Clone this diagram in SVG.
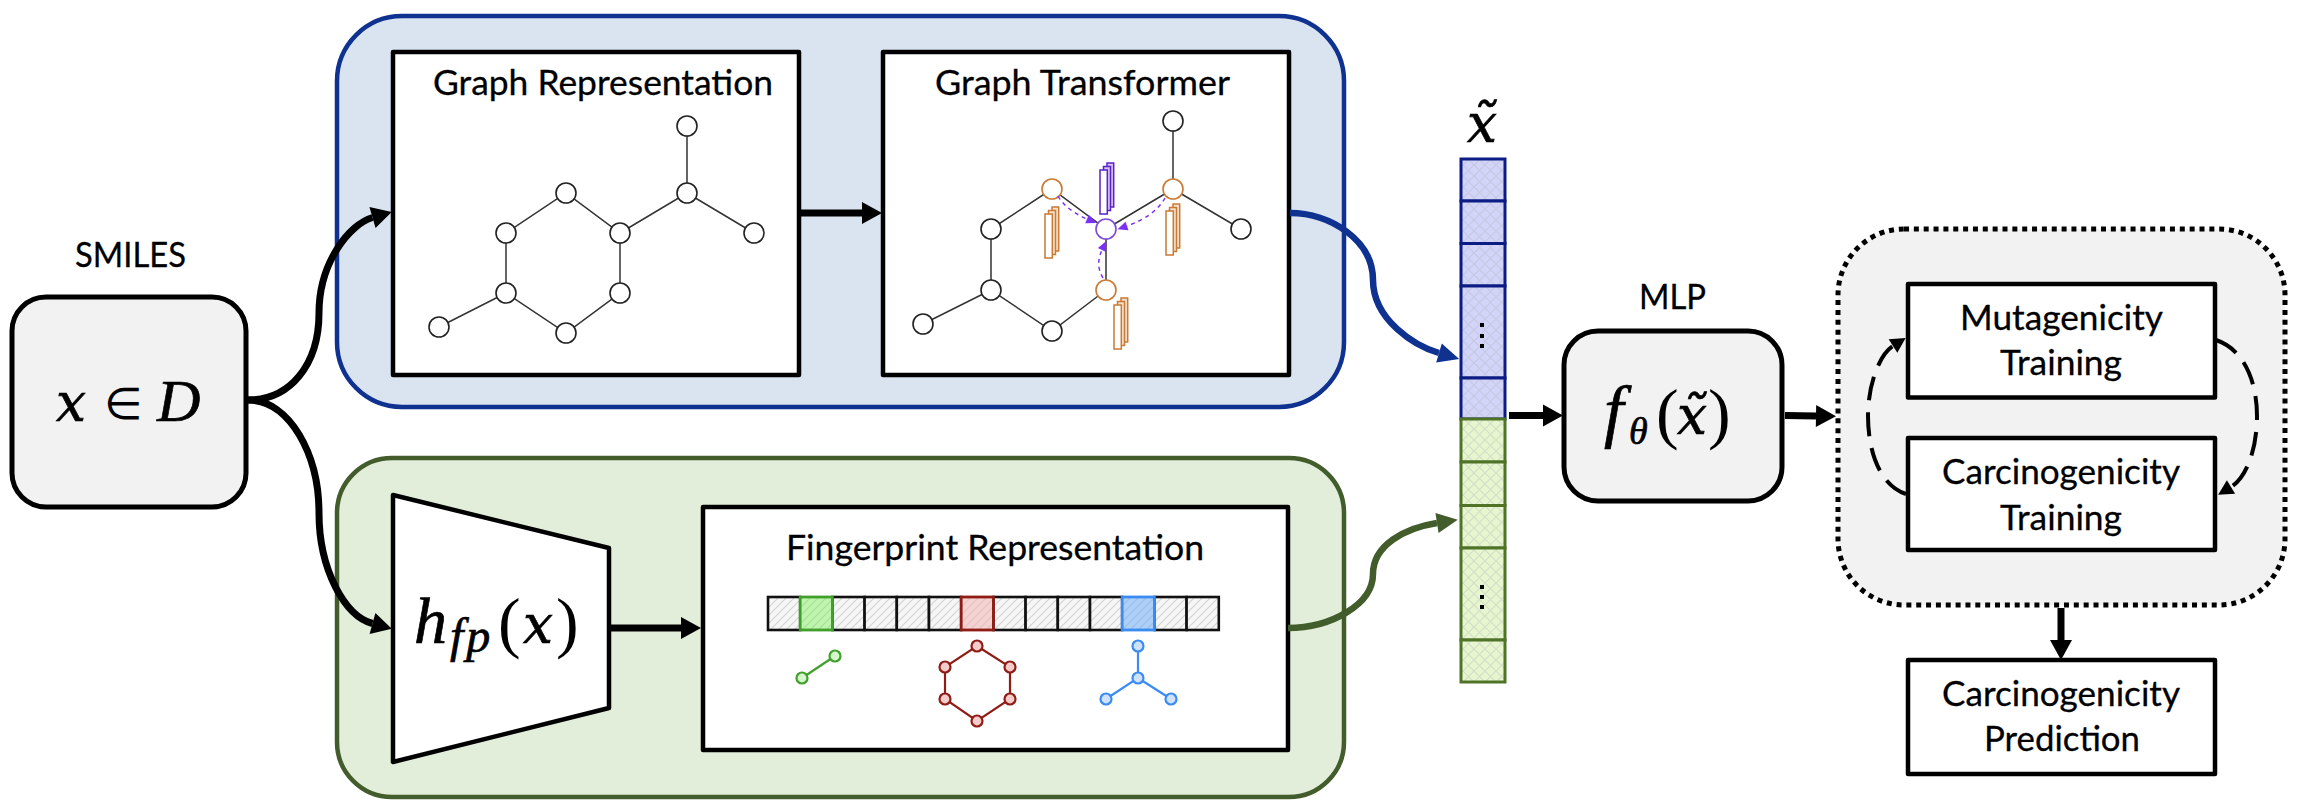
<svg xmlns="http://www.w3.org/2000/svg" width="2300" height="808" viewBox="0 0 2300 808">
<style>
.t{font-family:"Lato","Noto Sans",sans-serif;font-size:35px;fill:#000;stroke:#000;stroke-width:.3}
.m{font-family:"DejaVu Serif","Liberation Serif",serif;font-style:italic;fill:#000;stroke:#000;stroke-width:.7}
.l{font-family:"Liberation Serif","DejaVu Serif",serif;font-style:italic;fill:#000;stroke:#000;stroke-width:.7}
.u{font-family:"Liberation Serif",serif;fill:#000}
.box{fill:#fff;stroke:#000;stroke-width:4.5;stroke-linejoin:round}
.rr{fill:#f2f2f2;stroke:#000;stroke-width:5}
.e{stroke:#333;stroke-width:1.5;fill:none}
.n{fill:#fff;stroke:#222;stroke-width:1.6}
.no{fill:#fff;stroke:#c97a35;stroke-width:1.6}
.conn{fill:none;stroke:#000;stroke-width:7}
.pd{fill:none;stroke:#7b2ff7;stroke-width:1.5;stroke-dasharray:4 4}
</style>
<defs>
<marker id="hb" markerUnits="userSpaceOnUse" markerWidth="24" markerHeight="24" refX="0" refY="11" orient="auto" overflow="visible"><path d="M0 0L20 11L0 22Z" fill="#000"/></marker>
<marker id="hblue" markerUnits="userSpaceOnUse" markerWidth="24" markerHeight="24" refX="0" refY="10" orient="auto" overflow="visible"><path d="M0 0L21 10L0 20Z" fill="#0f3291"/></marker>
<marker id="hgreen" markerUnits="userSpaceOnUse" markerWidth="24" markerHeight="24" refX="0" refY="10" orient="auto" overflow="visible"><path d="M0 0L21 10L0 20Z" fill="#435c2b"/></marker>
<marker id="hd" markerUnits="userSpaceOnUse" markerWidth="18" markerHeight="18" refX="0" refY="8" orient="auto" overflow="visible"><path d="M0 0L15 8L0 16Z" fill="#000"/></marker>
<marker id="hp" markerUnits="userSpaceOnUse" markerWidth="12" markerHeight="12" refX="0" refY="4.5" orient="auto" overflow="visible"><path d="M0 0L10 4.5L0 9Z" fill="#7b2ff7"/></marker>
<pattern id="hatch" patternUnits="userSpaceOnUse" width="8" height="8"><rect width="8" height="8" fill="#f6f6f6"/><path d="M-2 10L10 -2M-6 6L6 -6M2 14L14 2" stroke="#d4d4d4" stroke-width="1.2"/></pattern>
<pattern id="hatchG" patternUnits="userSpaceOnUse" width="8" height="8"><rect width="8" height="8" fill="#bdf5ad"/><path d="M-2 10L10 -2M-6 6L6 -6M2 14L14 2" stroke="#a9dd9b" stroke-width="1.2"/></pattern>
<pattern id="hatchR" patternUnits="userSpaceOnUse" width="8" height="8"><rect width="8" height="8" fill="#f5d2d2"/><path d="M-2 10L10 -2M-6 6L6 -6M2 14L14 2" stroke="#e6c2c2" stroke-width="1.2"/></pattern>
<pattern id="hatchB" patternUnits="userSpaceOnUse" width="8" height="8"><rect width="8" height="8" fill="#aed0f8"/><path d="M-2 10L10 -2M-6 6L6 -6M2 14L14 2" stroke="#9cbee6" stroke-width="1.2"/></pattern>
<pattern id="xB" patternUnits="userSpaceOnUse" width="11" height="11"><rect width="11" height="11" fill="#d2d5f8"/><path d="M0 0L11 11M11 0L0 11" stroke="#c6c8e4" stroke-width="1.2"/></pattern>
<pattern id="xG" patternUnits="userSpaceOnUse" width="11" height="11"><rect width="11" height="11" fill="#e8f6cf"/><path d="M0 0L11 11M11 0L0 11" stroke="#d4dfc8" stroke-width="1.2"/></pattern>
<g id="so"><rect x="7" y="-7" width="6.7" height="44" fill="#f3dfca" stroke="#c97a35" stroke-width="1.5"/><rect x="3.5" y="-3.5" width="7" height="44" fill="#f3dfca" stroke="#c97a35" stroke-width="1.5"/><rect x="0" y="0" width="7.3" height="44" fill="#fff" stroke="#c97a35" stroke-width="1.5"/></g>
<g id="sp"><rect x="7" y="-7" width="6.7" height="44" fill="#d5c2f0" stroke="#5a22c8" stroke-width="1.5"/><rect x="3.5" y="-3.5" width="7" height="44" fill="#d5c2f0" stroke="#5a22c8" stroke-width="1.5"/><rect x="0" y="0" width="7.3" height="44" fill="#fff" stroke="#5a22c8" stroke-width="1.5"/></g>
</defs>

<g id="graph-panel"><rect x="337" y="16" width="1007" height="391" rx="65" fill="#dae3f0" stroke="#0f3291" stroke-width="4.5"/></g>
<g id="fp-panel"><rect x="337" y="458" width="1007" height="339" rx="55" fill="#e2eeda" stroke="#435c2b" stroke-width="4.5"/></g>

<g id="smiles-node">
<text class="t" x="75" y="267" textLength="111" lengthAdjust="spacingAndGlyphs">SMILES</text>
<rect class="rr" x="12" y="297" width="234" height="210" rx="34"/>
<text class="m" font-size="54" x="56" y="421" textLength="30" lengthAdjust="spacingAndGlyphs">x</text>
<text font-family="DejaVu Sans" font-size="44" x="104" y="419">∈</text>
<text class="l" font-size="60" x="157" y="421">D</text>
</g>

<g id="graph-representation">
<rect class="box" x="393" y="52" width="406" height="323"/>
<text class="t" x="433" y="95" textLength="340" lengthAdjust="spacingAndGlyphs">Graph Representation</text>
<path class="e" d="M687 126V193L620 233L566 193L506 233V293L566 333L620 293V233M687 193L754 233M506 293L439 327"/>
<g><circle class="n" cx="687" cy="126" r="10"/><circle class="n" cx="687" cy="193" r="10"/><circle class="n" cx="754" cy="233" r="10"/><circle class="n" cx="620" cy="233" r="10"/><circle class="n" cx="566" cy="193" r="10"/><circle class="n" cx="506" cy="233" r="10"/><circle class="n" cx="506" cy="293" r="10"/><circle class="n" cx="620" cy="293" r="10"/><circle class="n" cx="566" cy="333" r="10"/><circle class="n" cx="439" cy="327" r="10"/></g>
</g>

<g id="graph-transformer">
<rect class="box" x="883" y="52" width="406" height="323"/>
<text class="t" x="935" y="95" textLength="295" lengthAdjust="spacingAndGlyphs">Graph Transformer</text>
<path class="e" d="M1173 121V189L1106 229L1052 189L991 229V290L1052 331L1106 290V229M1173 189L1241 229M991 290L923 324"/>
<circle class="n" cx="1173" cy="121" r="10"/><circle class="no" cx="1173" cy="189" r="10"/><circle class="n" cx="1241" cy="229" r="10"/><circle cx="1106" cy="229" r="10" fill="#fff" stroke="#7d4bd8" stroke-width="1.6"/><circle class="no" cx="1052" cy="189" r="10"/><circle class="n" cx="991" cy="229" r="10"/><circle class="n" cx="991" cy="290" r="10"/><circle class="no" cx="1106" cy="290" r="10"/><circle class="n" cx="1052" cy="331" r="10"/><circle class="n" cx="923" cy="324" r="10"/>
<use href="#so" x="1045" y="214"/><use href="#so" x="1166" y="211"/><use href="#so" x="1114" y="305"/><use href="#sp" x="1100" y="170"/>
<path class="pd" d="M1058 196Q1066 210 1087 219" marker-end="url(#hp)"/>
<path class="pd" d="M1165 198Q1155 216 1127 226" marker-end="url(#hp)"/>
<path class="pd" d="M1103 278Q1095 265 1102 250" marker-end="url(#hp)"/>
</g>

<g id="fingerprint-encoder">
<path d="M393 495L609 548V708L393 762Z" fill="#fff" stroke="#000" stroke-width="4.5" stroke-linejoin="round"/>
<text class="l" font-size="66" x="414" y="643">h</text>
<text class="l" font-size="48" x="450" y="652" letter-spacing="3">fp</text>
<text class="u" font-size="68" x="498" y="645">(</text>
<text class="m" font-size="54" x="523" y="643" textLength="30" lengthAdjust="spacingAndGlyphs">x</text>
<text class="u" font-size="68" x="556" y="645">)</text>
</g>

<g id="fingerprint-representation">
<rect class="box" x="703" y="507" width="585" height="243"/>
<text class="t" x="786" y="560" textLength="418" lengthAdjust="spacingAndGlyphs">Fingerprint Representation</text>
<g stroke="#111" stroke-width="2.6" fill="url(#hatch)">
<rect x="768" y="597" width="32.2" height="33"/><rect x="832.4" y="597" width="32.2" height="33"/><rect x="864.6" y="597" width="32.2" height="33"/><rect x="896.8" y="597" width="32.2" height="33"/><rect x="929" y="597" width="32.2" height="33"/><rect x="993.4" y="597" width="32.2" height="33"/><rect x="1025.6" y="597" width="32.2" height="33"/><rect x="1057.8" y="597" width="32.2" height="33"/><rect x="1090" y="597" width="32.2" height="33"/><rect x="1154.4" y="597" width="32.2" height="33"/><rect x="1186.6" y="597" width="32.2" height="33"/>
</g>
<rect x="800.2" y="597" width="32.2" height="33" fill="url(#hatchG)" stroke="#41a02c" stroke-width="2.8"/>
<rect x="961.2" y="597" width="32.2" height="33" fill="url(#hatchR)" stroke="#8f1d16" stroke-width="2.8"/>
<rect x="1122.2" y="597" width="32.2" height="33" fill="url(#hatchB)" stroke="#3b8cf2" stroke-width="2.8"/>
<g stroke="#41a02c" stroke-width="2.2" fill="#d5f7cc"><path d="M802 678L835 656"/><circle cx="802" cy="678" r="5.5"/><circle cx="835" cy="656" r="5.5"/></g>
<g stroke="#8f1d16" stroke-width="2.2" fill="#f5cccc"><path fill="none" d="M977 646L1010 667V699L977 721L945 699V667Z"/><circle cx="977" cy="646" r="5.5"/><circle cx="1010" cy="667" r="5.5"/><circle cx="1010" cy="699" r="5.5"/><circle cx="977" cy="721" r="5.5"/><circle cx="945" cy="699" r="5.5"/><circle cx="945" cy="667" r="5.5"/></g>
<g stroke="#3b8cf2" stroke-width="2.2" fill="#cfe2fa"><path fill="none" d="M1138 646V678L1106 699M1138 678L1171 699"/><circle cx="1138" cy="646" r="5.5"/><circle cx="1138" cy="678" r="5.5"/><circle cx="1106" cy="699" r="5.5"/><circle cx="1171" cy="699" r="5.5"/></g>
</g>

<g id="fused-vector">
<text class="m" font-size="54" x="1467" y="142" textLength="30" lengthAdjust="spacingAndGlyphs">x̃</text>
<g fill="url(#xB)" stroke="#0c1c85" stroke-width="3"><rect x="1461" y="159" width="44" height="42"/><rect x="1461" y="201" width="44" height="42.5"/><rect x="1461" y="243.5" width="44" height="42.5"/><rect x="1461" y="286" width="44" height="92"/><rect x="1461" y="378" width="44" height="41"/></g>
<g fill="url(#xG)" stroke="#4f7428" stroke-width="3"><rect x="1461" y="419" width="44" height="43"/><rect x="1461" y="462" width="44" height="43.5"/><rect x="1461" y="505.5" width="44" height="42.5"/><rect x="1461" y="548" width="44" height="92"/><rect x="1461" y="640" width="44" height="42"/></g>
<g fill="#000"><rect x="1480" y="323" width="4" height="4"/><rect x="1480" y="334" width="4" height="4"/><rect x="1480" y="344" width="4" height="4"/><rect x="1480" y="585" width="4" height="4"/><rect x="1480" y="595" width="4" height="4"/><rect x="1480" y="605" width="4" height="4"/></g>
</g>

<g id="mlp-node">
<text class="t" x="1639" y="309" textLength="67" lengthAdjust="spacingAndGlyphs">MLP</text>
<rect class="rr" x="1564" y="331" width="218" height="170" rx="34"/>
<text class="l" font-size="70" x="1604" y="434">f</text>
<text class="l" font-size="38" x="1629" y="444">θ</text>
<text class="u" font-size="68" x="1656" y="436">(</text>
<text class="m" font-size="54" x="1677" y="434" textLength="30" lengthAdjust="spacingAndGlyphs">x̃</text>
<text class="u" font-size="68" x="1708" y="436">)</text>
</g>

<g id="training-panel">
<rect x="1838" y="229" width="447" height="376" rx="66" fill="#f2f2f2" stroke="#000" stroke-width="5" stroke-dasharray="5 4.85"/>
</g>
<g id="mutagenicity-training">
<rect class="box" x="1908" y="284" width="307" height="113.500"/>
<text class="t" x="1960" y="330" textLength="203" lengthAdjust="spacingAndGlyphs">Mutagenicity</text>
<text class="t" x="2000" y="375" textLength="122" lengthAdjust="spacingAndGlyphs">Training</text>
</g>
<g id="carcinogenicity-training">
<rect class="box" x="1908" y="438" width="307" height="112"/>
<text class="t" x="1942" y="484" textLength="238" lengthAdjust="spacingAndGlyphs">Carcinogenicity</text>
<text class="t" x="2000" y="530" textLength="122" lengthAdjust="spacingAndGlyphs">Training</text>
</g>
<g id="carcinogenicity-prediction">
<rect class="box" x="1908" y="660" width="307" height="114"/>
<text class="t" x="1942" y="706" textLength="238" lengthAdjust="spacingAndGlyphs">Carcinogenicity</text>
<text class="t" x="1984" y="751" textLength="156" lengthAdjust="spacingAndGlyphs">Prediction</text>
</g>

<g id="connectors">
<path class="conn" d="M248 400C290 400 319 365 319 313C319 262 350 224 372.500 217.500" marker-end="url(#hb)"/>
<path class="conn" d="M248 400C290 400 319 455 319 513C319 570 345 616 372.500 623.500" marker-end="url(#hb)"/>
<path class="conn" d="M799 213H862" marker-end="url(#hb)"/>
<path class="conn" d="M609 628H681" marker-end="url(#hb)"/>
<path class="conn" style="stroke:#0f3291;stroke-width:6.500" d="M1290 213C1330 213 1373 240 1373 280C1373 320 1415 346 1439 353" marker-end="url(#hblue)"/>
<path class="conn" style="stroke:#435c2b;stroke-width:6.500" d="M1288 628C1330 628 1373 605 1373 574C1373 545 1405 528 1437 523" marker-end="url(#hgreen)"/>
<path class="conn" d="M1509 415.500H1543" marker-end="url(#hb)"/>
<path class="conn" d="M1785 415.500L1816 416" marker-end="url(#hb)"/>
<path class="conn" d="M2061 608V640" marker-end="url(#hb)"/>
<path class="conn" style="stroke-width:4;stroke-dasharray:24 12" d="M2216 340C2246 350 2257 385 2257 416C2257 450 2246 478 2231 487" marker-end="url(#hd)"/>
<path class="conn" style="stroke-width:4;stroke-dasharray:24 12" d="M1906 494C1879 485 1868 450 1868 416C1868 385 1879 355 1893 346" marker-end="url(#hd)"/>
</g>
</svg>
